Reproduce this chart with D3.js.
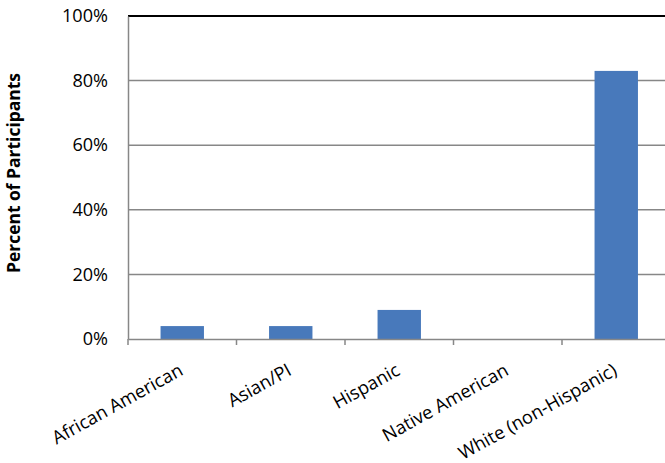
<!DOCTYPE html>
<html><head><meta charset="utf-8">
<script src="https://cdn.jsdelivr.net/npm/d3@7"></script>
<style>body{margin:0;background:#fff}svg{display:block}</style>
</head><body>
<svg id="c" width="665" height="463"></svg>
<script>
const categories = ["African American","Asian/PI","Hispanic","Native American","White (non-Hispanic)"];
const values = [4, 4, 9, 0, 83];
const yTicks = [0, 20, 40, 60, 80, 100];

const svg = d3.select("#c");
const font = "'Open Sans', sans-serif";
const mLeft = 128, mRight = 670.5, mTop = 16, mBottom = 339;

const xb = d3.scaleBand().domain(categories).range([mLeft, mRight]).paddingInner(0).paddingOuter(0);
const x = d3.scaleBand().domain(categories).range([mLeft, mRight]).paddingInner(0.6).paddingOuter(0.3);
const y = d3.scaleLinear().domain([0, 100]).range([mBottom, mTop]);

// fit a text element's font size to a target length
function fit(sel, target) {
  sel.each(function () {
    const len = this.getComputedTextLength();
    const fs = parseFloat(this.getAttribute("font-size"));
    if (len > 0) this.setAttribute("font-size", (fs * target / len).toFixed(2));
  });
}

// gridlines
svg.append("g").selectAll("line").data(yTicks.filter(t => t > 0 && t < 100)).join("line")
  .attr("x1", mLeft).attr("x2", 665).attr("y1", d => y(d)).attr("y2", d => y(d))
  .attr("stroke", "#878787").attr("stroke-width", 1.5);
// top line
svg.append("line").attr("x1", mLeft).attr("x2", 665).attr("y1", y(100)).attr("y2", y(100))
  .attr("stroke", "#000").attr("stroke-width", 2);

// bars
svg.append("g").selectAll("rect").data(categories).join("rect")
  .attr("x", d => x(d)).attr("width", x.bandwidth())
  .attr("y", (d, i) => y(values[i])).attr("height", (d, i) => y(0) - y(values[i]))
  .attr("fill", "#4879bb");

// y axis
const yAxis = d3.axisLeft(y).tickValues(yTicks).tickFormat(d => d + "%").tickSize(0).tickPadding(20);
const gy = svg.append("g").attr("transform", `translate(${mLeft},0)`).call(yAxis);
gy.select(".domain").attr("stroke", "#878787").attr("stroke-width", 1.5);
gy.selectAll("text").attr("font-family", font).attr("font-size", 18).attr("fill", "#000");
fit(gy.selectAll("text").filter(d => d === 100), 46);
const tfs = gy.selectAll("text").filter(d => d === 100).attr("font-size");
gy.selectAll("text").attr("font-size", tfs);

// x axis
const xAxis = d3.axisBottom(xb).tickSize(0).tickFormat("");
const gx = svg.append("g").attr("transform", `translate(0,${mBottom})`).call(xAxis);
gx.select(".domain").attr("stroke", "#878787").attr("stroke-width", 1.5);
svg.append("g").selectAll("line").data(categories.concat(["__end"])).join("line")
  .attr("x1", (d, i) => mLeft + i * xb.step()).attr("x2", (d, i) => mLeft + i * xb.step())
  .attr("y1", mBottom).attr("y2", mBottom + 6).attr("stroke", "#878787").attr("stroke-width", 1.5);

// category labels
const cl = svg.append("g").selectAll("text").data(categories).join("text")
  .attr("transform", d => `translate(${xb(d) + xb.bandwidth() / 2 + 2},${mBottom + 35}) rotate(-29)`)
  .attr("text-anchor", "end").attr("font-family", font).attr("font-size", 17).attr("fill", "#000")
  .text(d => d);
fit(cl.filter(d => d === "African American"), 146);
const cfs = cl.filter(d => d === "African American").attr("font-size");
cl.attr("font-size", cfs);

// y title
const yt = svg.append("text").attr("transform", `translate(20,173) rotate(-90)`)
  .attr("text-anchor", "middle").attr("font-family", font).attr("font-size", 16).attr("font-weight", "bold")
  .text("Percent of Participants");
fit(yt, 200);
</script>
</body></html>
